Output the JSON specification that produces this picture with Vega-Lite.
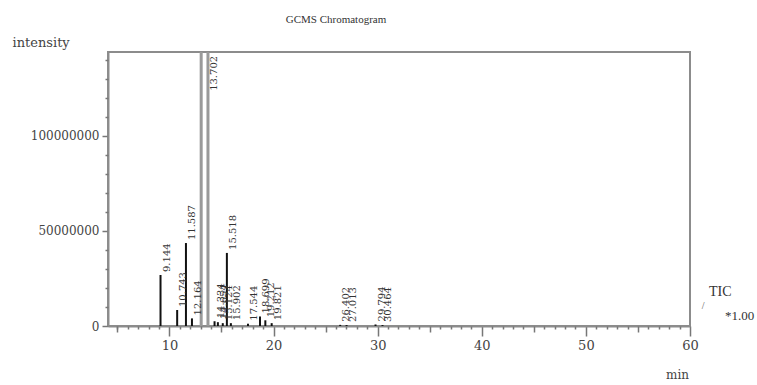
{
  "$schema": "https://vega.github.io/schema/vega-lite/v6.json",
  "width": 582,
  "height": 274,
  "autosize": {"type": "none"},
  "padding": {"left": 108, "top": 52, "right": 67, "bottom": 59},
  "background": "white",
  "config": {
    "view": {"stroke": "#8c8c8c", "strokeWidth": 2},
    "font": "DejaVu Serif"
  },
  "title": {
    "text": "GCMS Chromatogram",
    "font": "Liberation Serif",
    "fontSize": 11,
    "fontWeight": "normal",
    "color": "#333333",
    "anchor": "middle",
    "dx": -63,
    "dy": 8,
    "offset": 8,
    "baseline": "bottom"
  },
  "resolve": {"axis": {"x": "independent", "y": "independent"}},
  "datasets": {
    "peaks": [
      {"time": 9.144, "intensity": 26800000, "label": "9.144"},
      {"time": 10.743, "intensity": 8400000, "label": "10.743"},
      {"time": 11.587, "intensity": 43600000, "label": "11.587"},
      {"time": 12.164, "intensity": 4000000, "label": "12.164"},
      {"time": 13.05, "intensity": 150000000, "label": ""},
      {"time": 13.702, "intensity": 150000000, "label": "13.702"},
      {"time": 14.334, "intensity": 2500000, "label": "14.334"},
      {"time": 14.654, "intensity": 2000000, "label": "14.654"},
      {"time": 15.124, "intensity": 1500000, "label": "15.124"},
      {"time": 15.518, "intensity": 38400000, "label": "15.518"},
      {"time": 15.902, "intensity": 1500000, "label": "15.902"},
      {"time": 17.544, "intensity": 1200000, "label": "17.544"},
      {"time": 18.699, "intensity": 5000000, "label": "18.699"},
      {"time": 19.212, "intensity": 3000000, "label": "19.212"},
      {"time": 19.821, "intensity": 1500000, "label": "19.821"},
      {"time": 26.402, "intensity": 600000, "label": "26.402"},
      {"time": 27.013, "intensity": 500000, "label": "27.013"},
      {"time": 29.794, "intensity": 800000, "label": "29.794"},
      {"time": 30.464, "intensity": 500000, "label": "30.464"}
    ]
  },
  "layer": [
    {
      "data": {"name": "peaks"},
      "mark": {"type": "rule", "clip": true},
      "encoding": {
        "x": {
          "field": "time",
          "type": "quantitative",
          "scale": {"domain": [4.1, 60], "nice": false, "zero": false},
          "axis": {
            "orient": "bottom",
            "values": [10, 20, 30, 40, 50, 60],
            "format": "d",
            "tickSize": 10,
            "tickColor": "#777777",
            "tickWidth": 1.5,
            "domainColor": "#8c8c8c",
            "domainWidth": 2,
            "grid": false,
            "labelFont": "DejaVu Serif",
            "labelFontSize": 13,
            "labelColor": "#444444",
            "labelPadding": 3,
            "labelFlush": false,
            "labelOverlap": false,
            "title": "min",
            "titleFont": "DejaVu Serif",
            "titleFontSize": 12,
            "titleFontWeight": "normal",
            "titleColor": "#444444",
            "titleX": 569,
            "titleY": 48,
            "titleAlign": "center",
            "titleBaseline": "middle"
          }
        },
        "y": {
          "field": "intensity",
          "type": "quantitative",
          "scale": {"domain": [0, 144000000], "nice": false},
          "axis": {
            "orient": "left",
            "values": [0, 50000000, 100000000],
            "format": "d",
            "tickSize": 6,
            "tickColor": "#777777",
            "tickWidth": 1.5,
            "domainColor": "#8c8c8c",
            "domainWidth": 2,
            "grid": false,
            "labelFont": "DejaVu Serif",
            "labelFontSize": 12,
            "labelColor": "#444444",
            "labelPadding": 3,
            "labelFlush": false,
            "labelOverlap": false,
            "title": "intensity",
            "titleFont": "DejaVu Serif",
            "titleFontSize": 13,
            "titleFontWeight": "normal",
            "titleColor": "#444444",
            "titleAngle": 0,
            "titleX": -96,
            "titleY": -10,
            "titleAlign": "left",
            "titleBaseline": "middle"
          }
        },
        "y2": {"datum": 0},
        "color": {
          "condition": {"test": "datum.intensity > 100000000", "value": "#9a9a9a"},
          "value": "#111111"
        },
        "strokeWidth": {
          "condition": {"test": "datum.intensity > 100000000", "value": 3},
          "value": 2
        }
      }
    },
    {
      "data": {"name": "peaks"},
      "transform": [
        {"filter": "datum.label != ''"},
        {"calculate": "min(datum.intensity, 122000000)", "as": "ly"}
      ],
      "mark": {
        "type": "text",
        "angle": 270,
        "align": "left",
        "baseline": "top",
        "dx": 3,
        "dy": 1,
        "fontSize": 10,
        "font": "DejaVu Serif",
        "color": "#333333"
      },
      "encoding": {
        "x": {
          "field": "time",
          "type": "quantitative",
          "axis": {
            "orient": "bottom",
            "values": [5,6,7,8,9,11,12,13,14,16,17,18,19,21,22,23,24,26,27,28,29,31,32,33,34,36,37,38,39,41,42,43,44,46,47,48,49,51,52,53,54,56,57,58,59],
            "tickSize": 3,
            "tickColor": "#777777",
            "tickWidth": 1.5,
            "labels": false,
            "domain": false,
            "grid": false,
            "title": null
          }
        },
        "y": {
          "field": "ly",
          "type": "quantitative",
          "axis": {
            "orient": "left",
            "values": [10000000,20000000,30000000,40000000,60000000,70000000,80000000,90000000,110000000,120000000,130000000,140000000],
            "tickSize": 3,
            "tickColor": "#777777",
            "tickWidth": 1.5,
            "labels": false,
            "domain": false,
            "grid": false,
            "title": null
          }
        },
        "text": {"field": "label"}
      }
    },
    {
      "data": {"values": [{}]},
      "mark": {"type": "text", "align": "left", "baseline": "middle", "fontSize": 14, "font": "Liberation Serif", "color": "#333333", "clip": false},
      "encoding": {
        "x": {
          "datum": 61.83,
          "type": "quantitative",
          "axis": {
            "orient": "bottom",
            "values": [5, 15, 25, 35, 45, 55],
            "tickSize": 6,
            "tickColor": "#777777",
            "tickWidth": 1.5,
            "labels": false,
            "domain": false,
            "grid": false,
            "title": null
          }
        },
        "y": {"datum": 17900000, "type": "quantitative", "axis": null},
        "text": {"value": "TIC"}
      }
    },
    {
      "data": {"values": [{}]},
      "mark": {"type": "text", "align": "left", "baseline": "middle", "fontSize": 13, "font": "Liberation Serif", "color": "#333333", "clip": false},
      "encoding": {
        "x": {"datum": 63.37, "type": "quantitative", "axis": null},
        "y": {"datum": 5300000, "type": "quantitative", "axis": null},
        "text": {"value": "*1.00"}
      }
    },
    {
      "data": {"values": [{}]},
      "mark": {"type": "text", "align": "center", "baseline": "middle", "fontSize": 10, "font": "Liberation Serif", "color": "#555555", "clip": false},
      "encoding": {
        "x": {"datum": 61.26, "type": "quantitative", "axis": null},
        "y": {"datum": 10500000, "type": "quantitative", "axis": null},
        "text": {"value": "/"}
      }
    }
  ]
}
